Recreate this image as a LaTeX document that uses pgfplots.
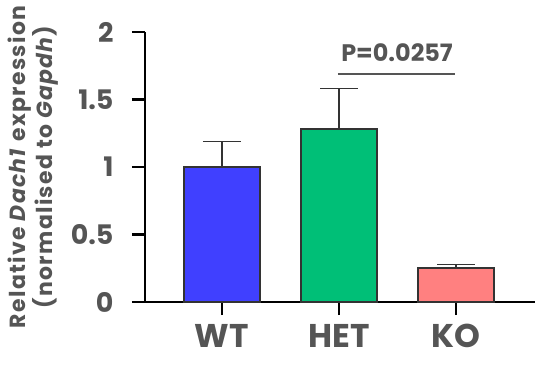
\documentclass[border=0pt]{standalone}
\usepackage{fontspec}
\setmainfont{Poppins}
\usepackage{pgfplots}
\pgfplotsset{compat=1.18}
\definecolor{txt}{HTML}{555555}
\definecolor{edge}{HTML}{333333}
\definecolor{cWT}{RGB}{64,64,255}
\definecolor{cHET}{RGB}{0,191,119}
\definecolor{cKO}{RGB}{255,128,128}
\begin{document}
\begin{tikzpicture}
\begin{axis}[name=ax, scale only axis, width=390bp, height=270bp,
  xmin=-0.658, xmax=2.675, ymin=0, ymax=2,
  axis x line*=bottom, axis y line*=left,
  axis line style={-, line width=2.5bp, black},
  xtick={0,1,2}, xticklabels={WT,HET,KO},
  ytick={0,0.5,1,1.5,2},
  /pgf/number format/assume math mode=true,
  tick style={line width=2.5bp, black},
  major tick length=13bp, tick align=outside,
  yticklabel style={font=\fontsize{27}{27}\selectfont\bfseries, text=txt, xshift=-15bp},
  xticklabel style={font=\fontsize{33}{33}\selectfont\bfseries, text=txt, yshift=-6bp},
  ylabel={Relative \textit{Dach1} expression\\(normalised to \textit{Gapdh})},
  ylabel style={at={(axis description cs:-0.287,0.5)}, anchor=center, align=center,
    font=\fontsize{22}{25}\selectfont\bfseries\addfontfeatures{LetterSpace=6}, text=txt},
  clip=false,
]
\addplot[ybar, bar shift=0pt, bar width=76bp, fill=cWT, draw=edge, line width=2bp,
  error bars/.cd, y dir=plus, y explicit,
  error bar style={line width=1.3bp, draw=edge},
  error mark options={rotate=90, mark size=19bp, line width=1.3bp, draw=edge}]
  coordinates {(0,1.0) +- (0,0.19)};
\addplot[ybar, bar shift=0pt, bar width=76bp, fill=cHET, draw=edge, line width=2bp,
  error bars/.cd, y dir=plus, y explicit,
  error bar style={line width=1.3bp, draw=edge},
  error mark options={rotate=90, mark size=19bp, line width=1.3bp, draw=edge}]
  coordinates {(1,1.285) +- (0,0.295)};
\addplot[ybar, bar shift=0pt, bar width=76bp, fill=cKO, draw=edge, line width=2bp,
  error bars/.cd, y dir=plus, y explicit,
  error bar style={line width=1.3bp, draw=edge},
  error mark options={rotate=90, mark size=19bp, line width=1.3bp, draw=edge}]
  coordinates {(2,0.25) +- (0,0.03)};
\draw[txt, line width=2bp] (axis cs:0.99,1.69) -- (axis cs:1.99,1.69);
\node[anchor=base, text=txt, font=\fontsize{24}{24}\selectfont\bfseries, inner sep=0pt]
  at (axis cs:1.496,1.78) {P=0.0257};
\end{axis}
\pgfresetboundingbox
\path ([xshift=-145bp,yshift=-67bp]ax.south west) rectangle ([yshift=32bp]ax.north east);
\end{tikzpicture}
\end{document}
